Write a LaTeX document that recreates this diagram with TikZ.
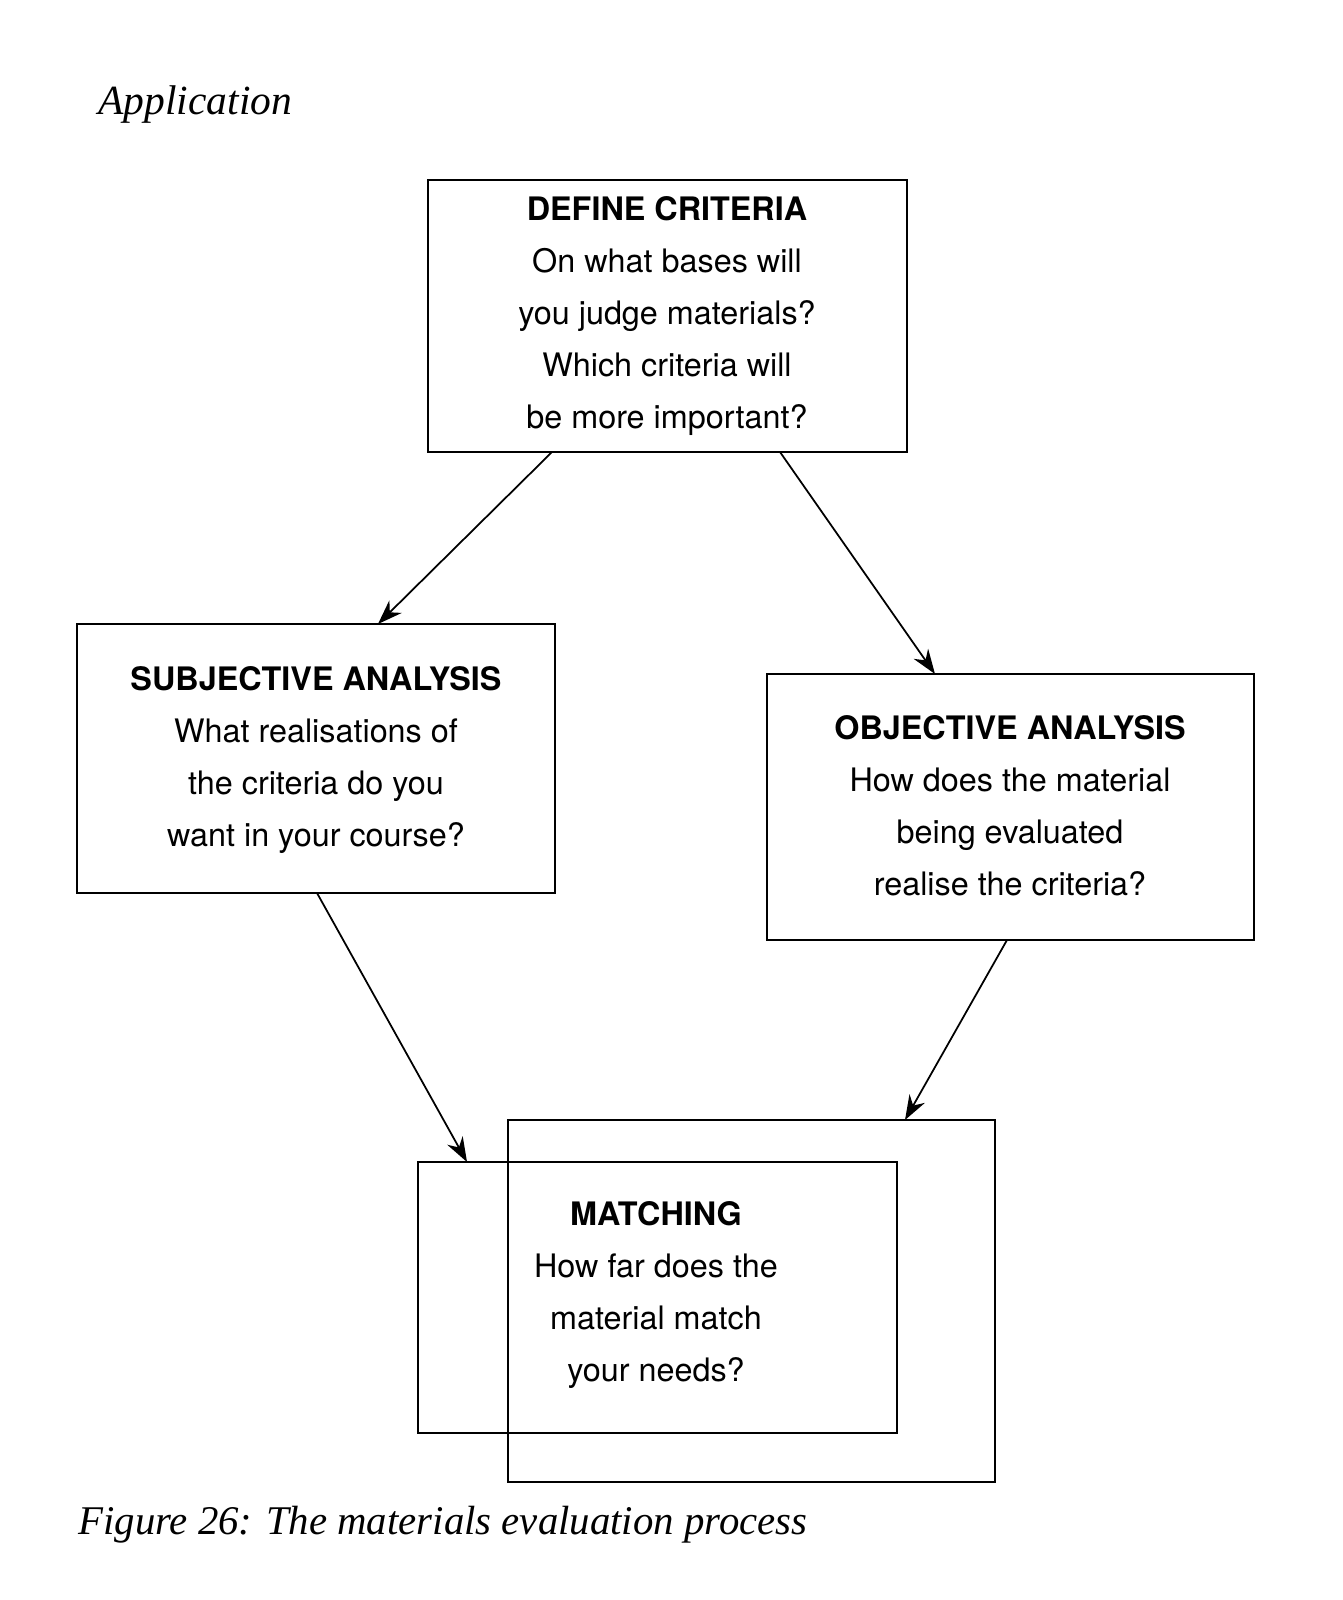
\documentclass[tikz,border=0pt]{standalone}
\usepackage{fontspec}
\usetikzlibrary{arrows.meta}
\setmainfont{Liberation Serif}
\newfontfamily\boxfont{TeX Gyre Heros}
\begin{document}
\begin{tikzpicture}[x=0.01cm,y=-0.01cm,
  box/.style={draw,line width=0.7pt},
  txt/.style={align=center,font=\boxfont\fontsize{9.2}{14.8}\selectfont},
  arr/.style={draw,line width=0.5pt,-{Stealth[length=7pt,width=5pt]}}]
\useasboundingbox (0,0) rectangle (1342,1600);
\node[anchor=west,font=\itshape\fontsize{11.8}{14}\selectfont] (title) at (86,105) {Application};
% boxes
\draw[box] (428,180) rectangle (907,452);
\node[txt] (def) at (667,316) {\textbf{DEFINE CRITERIA}\\On what bases will\\you judge materials?\\Which criteria will\\be more important?};
\draw[box] (77,624) rectangle (555,893);
\node[txt] (sub) at (316,760) {\textbf{SUBJECTIVE ANALYSIS}\\What realisations of\\the criteria do you\\want in your course?};
\draw[box] (767,674) rectangle (1254,940);
\node[txt] (obj) at (1010,806) {\textbf{OBJECTIVE ANALYSIS}\\How does the material\\being evaluated\\realise the criteria?};
\draw[box] (508,1120) rectangle (995,1482);
\draw[box] (418,1162) rectangle (897,1433);
\node[txt,align=center] (mat) at (656,1295) {\textbf{MATCHING}\\How far does the\\material match\\your needs?};
\coordinate (d1) at (552,452); \coordinate (s1) at (378,624);
\coordinate (d2) at (780,452); \coordinate (o1) at (935,674);
\coordinate (s2) at (317,893); \coordinate (m1) at (467,1162);
\coordinate (o2) at (1007,940); \coordinate (m2) at (905,1120);
\draw[arr] (d1) -- (s1);
\draw[arr] (d2) -- (o1);
\draw[arr] (s2) -- (m1);
\draw[arr] (o2) -- (m2);
\node[anchor=west,font=\itshape\fontsize{11.6}{14}\selectfont] (cap) at (66,1525) {Figure 26: The materials evaluation process};
\end{tikzpicture}
\end{document}
